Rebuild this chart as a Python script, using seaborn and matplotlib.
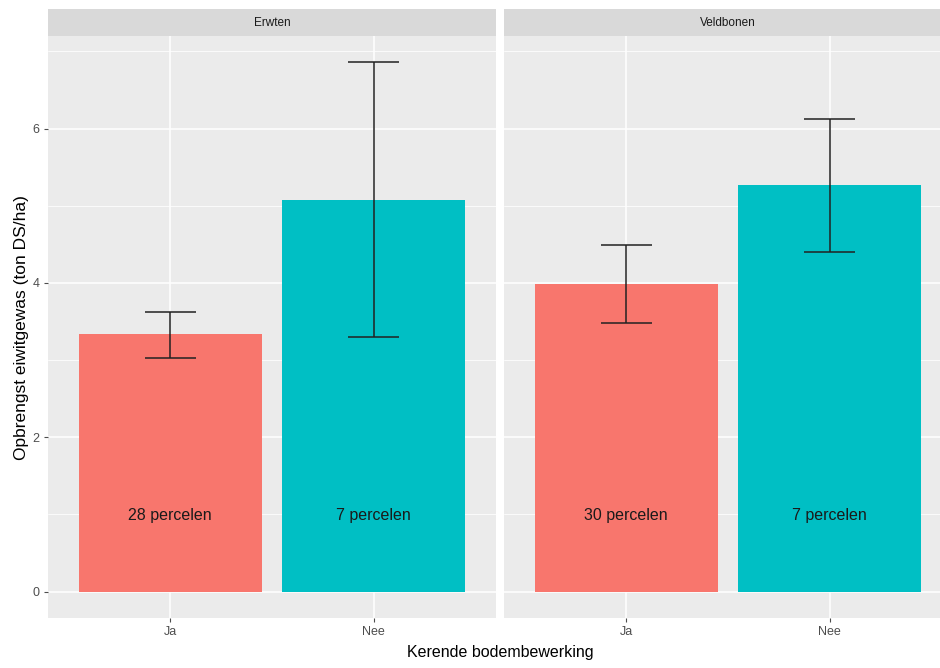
import matplotlib
matplotlib.use("Agg")
import matplotlib.pyplot as plt
import seaborn as sns
import pandas as pd

# Protein crop yield per crop and tillage practice
gewassen = ["Erwten", "Veldbonen"]
bewerking = ["Ja", "Nee"]
opbrengst = {"Erwten": [3.34, 5.08], "Veldbonen": [3.98, 5.27]}
onder = {"Erwten": [3.03, 3.30], "Veldbonen": [3.48, 4.40]}
boven = {"Erwten": [3.62, 6.86], "Veldbonen": [4.49, 6.13]}
percelen = {"Erwten": [28, 7], "Veldbonen": [30, 7]}
y_ticks = [0, 2, 4, 6]

kleuren = {"Ja": "#F8766D", "Nee": "#00BFC4"}

sns.set_theme(style="darkgrid")
plt.rcParams["font.family"] = ["Liberation Sans", "DejaVu Sans"]

W, H = 940, 668
fig = plt.figure(figsize=(W / 100, H / 100), dpi=100)

panel_w = 448
panel_left = [48, 504]
panel_top, panel_bottom = 36, 618
strip_top = 9

ymin, ymax = -0.343, 7.2

for i, gewas in enumerate(gewassen):
    left = panel_left[i]
    ax = fig.add_axes([left / W, (H - panel_bottom) / H, panel_w / W,
                       (panel_bottom - panel_top) / H])
    ax.set_facecolor("#EBEBEB")
    df = pd.DataFrame({"bewerking": bewerking, "opbrengst": opbrengst[gewas]})
    sns.barplot(data=df, x="bewerking", y="opbrengst", hue="bewerking",
                palette=kleuren, width=0.9, errorbar=None, legend=False,
                saturation=1, ax=ax, zorder=2)
    for p in ax.patches:
        p.set_edgecolor("none")

    # error bars from the lower/upper bounds
    xs = list(range(len(bewerking)))
    ax.vlines(xs, onder[gewas], boven[gewas], color="#222222", lw=1.1, zorder=3)
    for x, lo, hi in zip(xs, onder[gewas], boven[gewas]):
        ax.hlines([lo, hi], x - 0.125, x + 0.125, color="#222222", lw=1.1, zorder=3)

    # count labels
    for x, n in zip(xs, percelen[gewas]):
        ax.text(x, 1, f"{n} percelen", ha="center", va="center_baseline",
                fontsize=11.5, color="#1a1a1a", zorder=4)

    ax.set_xlim(-0.6, 1.6)
    ax.set_ylim(ymin, ymax)
    ax.set_yticks(y_ticks)
    ax.set_yticks([1, 3, 5, 7], minor=True)
    ax.grid(which="major", color="white", lw=1.1)
    ax.grid(which="minor", axis="y", color="white", lw=0.55)
    ax.set_axisbelow(True)
    for s in ax.spines.values():
        s.set_visible(False)
    ax.tick_params(axis="both", which="major", length=3, width=0.8,
                   color="#4d4d4d", labelcolor="#4d4d4d", labelsize=9, pad=3,
                   bottom=True, left=(i == 0))
    ax.tick_params(axis="both", which="minor", length=0)
    if i > 0:
        ax.set_yticklabels([])
    ax.set_xlabel("")
    ax.set_ylabel("")

    # facet strip
    sax = fig.add_axes([left / W, (H - panel_top) / H, panel_w / W,
                        (panel_top - strip_top) / H])
    sax.set_facecolor("#D9D9D9")
    sax.set_xticks([])
    sax.set_yticks([])
    sax.grid(False)
    for s in sax.spines.values():
        s.set_visible(False)
    sax.text(0.5, 0.5, gewas, ha="center", va="center", fontsize=8.5,
             color="#1a1a1a", transform=sax.transAxes)

fig.text(500 / W, 1 - 652 / H, "Kerende bodembewerking", ha="center",
         va="center", fontsize=11.5, color="black")
fig.text(22 / W, 1 - 328 / H, "Opbrengst eiwitgewas (ton DS/ha)", ha="center",
         va="center", rotation=90, fontsize=12.5, color="black")

fig.savefig("out.png", dpi=100, facecolor="white")
